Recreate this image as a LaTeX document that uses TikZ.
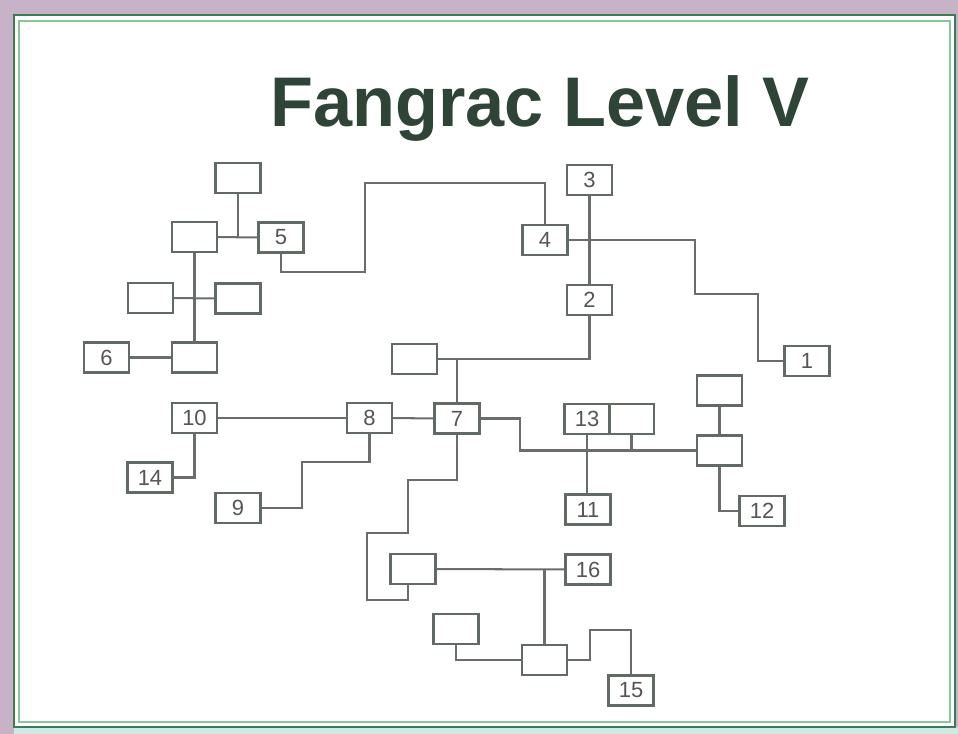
\documentclass[tikz,border=0pt]{standalone}
\usepackage{fontspec}
\setmainfont{Liberation Sans}
\usepackage{tikz}
\usetikzlibrary{positioning,calc}
\definecolor{bgpurple}{HTML}{C8B2C8}
\definecolor{bgcyan}{HTML}{CFE9E6}
\definecolor{framegreen}{HTML}{3C7C52}
\definecolor{framelight}{HTML}{8CC49A}
\definecolor{titlegreen}{HTML}{2E4436}
\definecolor{boxgray}{HTML}{626A64}
\definecolor{wiregray}{HTML}{6A6E6A}
\definecolor{labelgray}{HTML}{555555}

\begin{document}
\begin{tikzpicture}[
  x=0.02cm,y=-0.02cm,
  box/.style={draw=boxgray,line width=1.15pt,minimum width=0.9cm,minimum height=0.6cm,inner sep=0pt,
    font=\fontsize{12.5}{13}\selectfont,text=labelgray},
  wire/.style={draw=wiregray,line width=1.15pt}
]
\useasboundingbox (0,0) rectangle (958,734);
% slide background and frame
\fill[bgpurple] (0,0) rectangle (958,734);
\fill[white] (14,15) rectangle (955,727);
\fill[bgcyan] (14,727) rectangle (958,734);
\draw[framegreen,line width=1.2pt] (14,15) rectangle (955,727);
\draw[framelight,line width=0.6pt] (19,21) rectangle (950,722);

\node[font=\bfseries\fontsize{40}{44}\selectfont,text=titlegreen] (title) at (540,108) {Fangrac Level V};

% left cluster
\node[box] (topblank) at (238,178) {};
\node[box] (leftof5) at (194.5,237) {};
\node[box] (n5) at (281,237.5) {5};
\node[box] (midleft) at (150.5,298) {};
\node[box] (midright) at (238,298.5) {};
\node[box] (lowblank) at (194.5,357.5) {};
\node[box] (n6) at (106.5,357.5) {6};
% upper right
\node[box] (n3) at (589.5,180) {3};
\node[box] (n4) at (545,240) {4};
\node[box] (n2) at (589.5,300) {2};
\node[box] (n1) at (807,361) {1};
% middle row
\node[box] (over7) at (414.5,359) {};
\node[box] (n10) at (194.5,418) {10};
\node[box] (n8) at (369.5,418) {8};
\node[box] (n7) at (457,418.5) {7};
\node[box] (n14) at (150,477.5) {14};
\node[box] (n9) at (238,508) {9};
\node[box] (n13) at (587,419) {13};
\node[box] (by13) at (631.5,419) {};
\node[box] (over12) at (719.5,390.5) {};
\node[box] (hub12) at (719.5,450.5) {};
\node[box] (n11) at (588,509.5) {11};
\node[box] (n12) at (762,511) {12};
% bottom cluster
\node[box] (left16) at (413,569) {};
\node[box] (n16) at (588,569.5) {16};
\node[box] (hub15) at (544.5,660) {};
\node[box] (leftlow) at (456,629) {};
\node[box] (n15) at (631,690.5) {15};

% connectors
\draw[wire] (leftof5) -- (n5);
\draw[wire] (topblank) -- (topblank |- n5);
\draw[wire] (leftof5) -- (lowblank);
\draw[wire] (midleft) -- (midright);
\draw[wire] (n6) -- (lowblank);
\draw[wire] (n5.south) |- (365,272) |- (545,183) -- (n4.north);
\draw[wire] (n3) -- (n2);
\draw[wire] (n4) -- (695,240) |- (758,294) |- (n1);
\draw[wire] (n2) |- (over7);
\draw[wire] (n7) -- (n7 |- over7);
\draw[wire] (n10) -- (n8);
\draw[wire] (n8) -- (n7);
\draw[wire] (n10) |- (n14);
\draw[wire] (n8) |- (302,462) |- (n9);
\draw[wire] (n7) |- (408,480) |- (367,533) |- (408,600) -- ++(0,-16);
\draw[wire] (n7) -| (520,450.5) -- (hub12);
\draw[wire] (n13) -- (n13 |- n11.north);
\draw[wire] (by13) -- (by13 |- hub12);
\draw[wire] (over12) -- (hub12);
\draw[wire] (hub12) |- (n12);
\draw[wire] (left16) -- (n16);
\draw[wire] (hub15) -- (hub15 |- n16);
\draw[wire] (leftlow) |- (hub15);
\draw[wire] (hub15) -- (590,660) |- (631,630) -- (n15);
\end{tikzpicture}
\end{document}
